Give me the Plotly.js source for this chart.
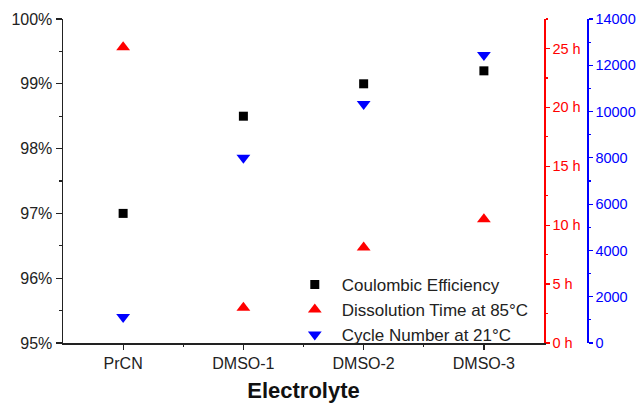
<!DOCTYPE html>
<html><head><meta charset="utf-8">
<script src="https://cdn.plot.ly/plotly-3.0.1.min.js"></script>
<style>html,body{margin:0;padding:0;background:#fff}#c{width:636px;height:404px}</style>
</head><body><div id="c"></div>
<script>
const categories = ["PrCN", "DMSO-1", "DMSO-2", "DMSO-3"];
const coulombicEfficiency = [97.0, 98.5, 99.0, 99.2];
const dissolutionTime = [25.1, 3.0, 8.1, 10.5];
const cycleNumber = [1120, 8000, 10330, 12440];
const seriesNames = ["Coulombic Efficiency", "Dissolution Time at 85°C", "Cycle Number at 21°C"];
const ceTicks = [95, 96, 97, 98, 99, 100];
const timeTicks = [0, 5, 10, 15, 20, 25];
const cycleTicks = [0, 2000, 4000, 6000, 8000, 10000, 12000, 14000];

const F = "Liberation Sans, Arial, sans-serif";
const traces = [
  {x: categories, y: coulombicEfficiency, name: seriesNames[0], type: "scatter", mode: "markers",
   marker: {symbol: "square", size: 9, color: "#000"}, yaxis: "y", cliponaxis: false},
  {x: categories, y: dissolutionTime, name: seriesNames[1], type: "scatter", mode: "markers",
   marker: {symbol: "triangle-up", size: 12, color: "#ff0000"}, yaxis: "y2", cliponaxis: false},
  {x: categories, y: cycleNumber, name: seriesNames[2], type: "scatter", mode: "markers",
   marker: {symbol: "triangle-down", size: 12, color: "#0000ff"}, yaxis: "y3", cliponaxis: false},
  {x: [], y: [], xaxis: "x2", yaxis: "y", type: "scatter", mode: "markers", showlegend: false, hoverinfo: "skip"}
];
const layout = {
  width: 636, height: 404,
  margin: {l: 63, r: 49, t: 19, b: 61},
  paper_bgcolor: "#fff", plot_bgcolor: "#fff",
  font: {family: F, size: 16, color: "#222"},
  showlegend: true,
  legend: {x: 0.429, y: 0.235, xanchor: "left", yanchor: "top", bgcolor: "rgba(0,0,0,0)",
           font: {family: F, size: 17, color: "#222"}, tracegroupgap: 0, itemwidth: 44},
  xaxis: {domain: [0, 0.918], type: "category", range: [-0.5, 3.5],
          showline: true, linecolor: "#222", linewidth: 1.5, showgrid: false, zeroline: false,
          ticks: "outside", ticklen: 5, tickcolor: "#222", tickwidth: 1.2,
          tickfont: {family: F, size: 16, color: "#222"},
          title: {text: "<b>Electrolyte</b>", font: {family: F, size: 22, color: "#111"}, standoff: 12}},
  xaxis2: {overlaying: "x", domain: [0, 0.918], anchor: "y", side: "bottom", type: "linear", range: [-0.5, 3.5],
           tickvals: [0.5, 1.5, 2.5], showticklabels: false, showline: false, showgrid: false,
           zeroline: false, ticks: "outside", ticklen: 3, tickcolor: "#222", tickwidth: 1.2},
  yaxis: {range: [95, 100], tickvals: ceTicks, ticktext: ceTicks.map(v => v + "%"),
          showline: true, linecolor: "#222", linewidth: 1.5, showgrid: false, zeroline: false,
          ticks: "outside", ticklen: 6, tickcolor: "#222", tickwidth: 1.2,
          minor: {dtick: 0.5, ticklen: 3, tickcolor: "#222", ticks: "outside", showgrid: false},
          tickfont: {family: F, size: 16, color: "#222"}},
  yaxis2: {overlaying: "y", side: "right", anchor: "x", range: [0, 27.5],
           tickvals: timeTicks, ticktext: timeTicks.map(v => v + " h"),
           showline: true, linecolor: "#ff0000", linewidth: 1.5, showgrid: false, zeroline: false,
           ticks: "outside", ticklen: 4, tickcolor: "#ff0000", tickwidth: 1.2,
           minor: {dtick: 2.5, ticklen: 2, tickcolor: "#ff0000", ticks: "outside", showgrid: false},
           tickfont: {family: F, size: 14.5, color: "#ff0000"}},
  yaxis3: {overlaying: "y", side: "right", anchor: "free", position: 1.0, range: [0, 14000],
           tickvals: cycleTicks, ticktext: cycleTicks.map(v => String(v)),
           showline: true, linecolor: "#0000ff", linewidth: 1.5, showgrid: false, zeroline: false,
           ticks: "outside", ticklen: 4, tickcolor: "#0000ff", tickwidth: 1.2,
           minor: {dtick: 1000, ticklen: 2, tickcolor: "#0000ff", ticks: "outside", showgrid: false},
           tickfont: {family: F, size: 14.5, color: "#0000ff"}}
};
Plotly.newPlot("c", traces, layout, {displayModeBar: false, staticPlot: true});
</script></body></html>
